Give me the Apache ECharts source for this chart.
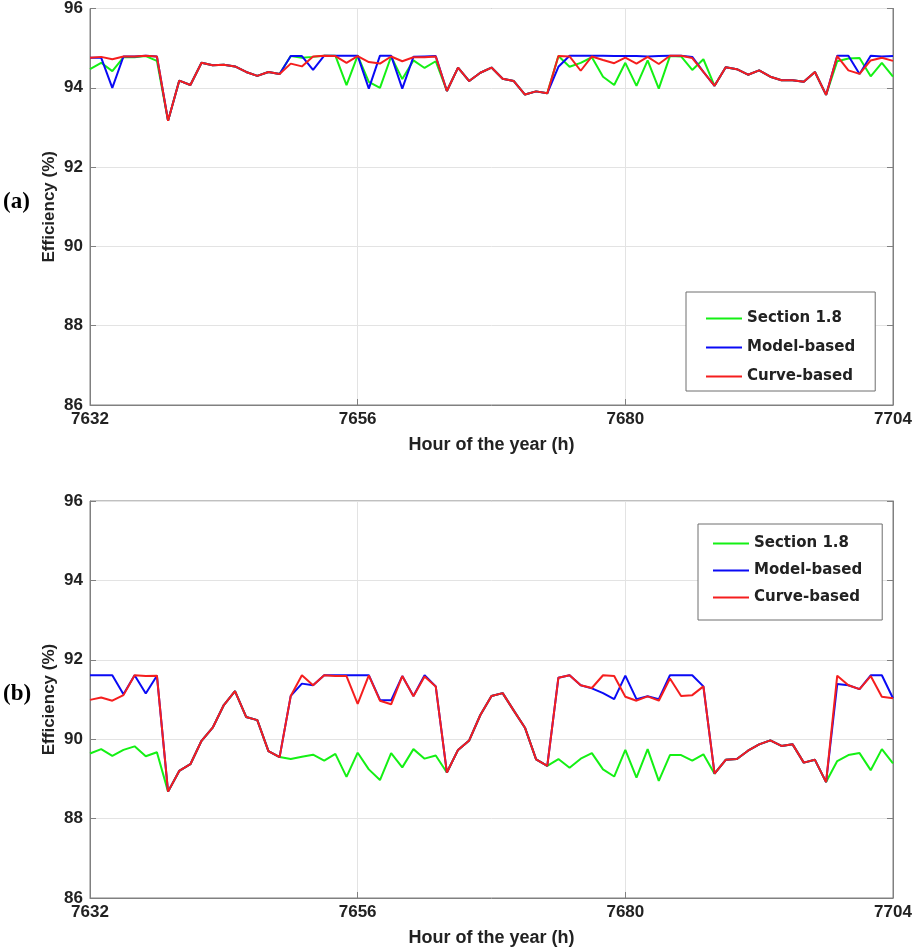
<!DOCTYPE html>
<html>
<head>
<meta charset="utf-8">
<title>Efficiency</title>
<script src="https://cdn.jsdelivr.net/npm/echarts@6/dist/echarts.min.js"></script>
<style>
  html, body { margin: 0; padding: 0; background: #fff; }
  #chart { width: 917px; height: 950px; }
</style>
</head>
<body>
<div id="chart"></div>
<script>
// hours 7632 .. 7704
const startHour = 7632;
const xTicks = [7632, 7656, 7680, 7704];
const seriesNames = ["Section 1.8", "Model-based", "Curve-based"];

// (a)
const sectionA = [94.47, 94.63, 94.42, 94.77, 94.77, 94.80, 94.68, 93.17, 94.18, 94.07,
  94.63, 94.57, 94.58, 94.54, 94.40, 94.30, 94.40, 94.35, 94.80, 94.76,
  94.78, 94.81, 94.81, 94.07, 94.81, 94.15, 94.00, 94.79, 94.22, 94.69,
  94.50, 94.67, 93.92, 94.51, 94.17, 94.38, 94.51, 94.23, 94.17, 93.83,
  93.91, 93.86, 94.80, 94.53, 94.63, 94.77, 94.28, 94.07, 94.63, 94.05,
  94.69, 93.98, 94.80, 94.79, 94.45, 94.72, 94.05, 94.52, 94.47, 94.33,
  94.44, 94.28, 94.19, 94.19, 94.15, 94.40, 93.82, 94.67, 94.74, 94.75,
  94.29, 94.63, 94.28];
const modelA = [94.76, 94.76, 94.00, 94.79, 94.79, 94.81, 94.79, 93.17, 94.18, 94.07,
  94.63, 94.57, 94.58, 94.54, 94.40, 94.30, 94.40, 94.35, 94.80, 94.80,
  94.45, 94.81, 94.81, 94.81, 94.81, 93.98, 94.81, 94.81, 93.98, 94.78,
  94.79, 94.80, 93.92, 94.51, 94.17, 94.38, 94.51, 94.23, 94.17, 93.83,
  93.91, 93.86, 94.53, 94.81, 94.81, 94.81, 94.81, 94.80, 94.80, 94.80,
  94.79, 94.80, 94.81, 94.81, 94.78, 94.40, 94.05, 94.52, 94.47, 94.33,
  94.44, 94.28, 94.19, 94.19, 94.15, 94.40, 93.82, 94.81, 94.81, 94.35,
  94.81, 94.79, 94.80];
const curveA = [94.76, 94.78, 94.72, 94.79, 94.79, 94.81, 94.79, 93.17, 94.18, 94.07,
  94.63, 94.57, 94.58, 94.54, 94.40, 94.30, 94.40, 94.35, 94.61, 94.54,
  94.79, 94.81, 94.80, 94.63, 94.80, 94.65, 94.61, 94.79, 94.67, 94.77,
  94.77, 94.79, 93.92, 94.51, 94.17, 94.38, 94.51, 94.23, 94.17, 93.83,
  93.91, 93.86, 94.80, 94.79, 94.43, 94.79, 94.70, 94.62, 94.76, 94.61,
  94.78, 94.60, 94.81, 94.81, 94.75, 94.40, 94.05, 94.52, 94.47, 94.33,
  94.44, 94.28, 94.19, 94.19, 94.15, 94.40, 93.82, 94.80, 94.44, 94.35,
  94.69, 94.76, 94.68];

// (b)
const sectionB = [89.64, 89.75, 89.58, 89.73, 89.82, 89.57, 89.67, 88.68, 89.20, 89.37,
  89.96, 90.29, 90.86, 91.21, 90.56, 90.48, 89.70, 89.55, 89.50, 89.56,
  89.61, 89.46, 89.63, 89.05, 89.66, 89.24, 88.97, 89.65, 89.29, 89.75,
  89.51, 89.59, 89.16, 89.73, 89.97, 90.61, 91.09, 91.16, 90.72, 90.29,
  89.49, 89.33, 89.50, 89.28, 89.51, 89.65, 89.24, 89.06, 89.73, 89.03,
  89.75, 88.95, 89.60, 89.60, 89.46, 89.62, 89.13, 89.48, 89.50, 89.71,
  89.87, 89.97, 89.83, 89.87, 89.41, 89.48, 88.92, 89.45, 89.60, 89.65,
  89.22, 89.75, 89.39];
const modelB = [91.61, 91.61, 91.61, 91.13, 91.61, 91.15, 91.60, 88.68, 89.20, 89.37,
  89.96, 90.29, 90.86, 91.21, 90.56, 90.48, 89.70, 89.55, 91.09, 91.40,
  91.36, 91.61, 91.61, 91.61, 91.61, 91.61, 90.99, 90.98, 91.59, 91.09,
  91.61, 91.33, 89.16, 89.73, 89.97, 90.61, 91.09, 91.16, 90.72, 90.29,
  89.49, 89.33, 91.55, 91.61, 91.36, 91.28, 91.16, 91.01, 91.60, 91.01,
  91.08, 91.01, 91.61, 91.61, 91.61, 91.33, 89.13, 89.48, 89.50, 89.71,
  89.87, 89.97, 89.83, 89.87, 89.41, 89.48, 88.92, 91.39, 91.36, 91.26,
  91.61, 91.61, 91.03];
const curveB = [90.99, 91.05, 90.97, 91.11, 91.61, 91.59, 91.60, 88.68, 89.20, 89.37,
  89.96, 90.29, 90.86, 91.21, 90.56, 90.48, 89.70, 89.55, 91.09, 91.61,
  91.36, 91.61, 91.59, 91.59, 90.89, 91.61, 90.97, 90.88, 91.59, 91.08,
  91.58, 91.33, 89.16, 89.73, 89.97, 90.61, 91.09, 91.16, 90.72, 90.29,
  89.49, 89.33, 91.55, 91.61, 91.36, 91.29, 91.61, 91.59, 91.07, 90.97,
  91.08, 90.97, 91.53, 91.09, 91.11, 91.33, 89.13, 89.48, 89.50, 89.71,
  89.87, 89.97, 89.83, 89.87, 89.41, 89.48, 88.92, 91.60, 91.36, 91.26,
  91.59, 91.07, 91.03];

const colors = ["#14f014", "#0a0af5", "#f51e1e"];

function pairs(values) {
  return values.map((v, i) => [startHour + i, v]);
}

const textColor = "#222";
const axisColor = "#808080";
const labelFont = "'Liberation Sans Narrow', 'Liberation Sans', Arial, sans-serif";

function xAxisFor(gridIndex) {
  return {
    type: "value",
    gridIndex: gridIndex,
    min: xTicks[0],
    max: xTicks[xTicks.length - 1],
    interval: 24,
    name: "Hour of the year (h)",
    nameLocation: "middle",
    nameGap: 31,
    nameTextStyle: { color: textColor, fontSize: 18, fontWeight: "bold", fontFamily: labelFont },
    axisLine: { show: true, lineStyle: { color: axisColor, width: 1 } },
    axisTick: { show: true, inside: true, length: 6, lineStyle: { color: axisColor } },
    axisLabel: {
      color: textColor, fontSize: 17, fontWeight: "bold", fontFamily: labelFont, margin: 6,
      formatter: (v) => String(v)
    },
    splitLine: { show: true, lineStyle: { color: "#e3e3e3", width: 1 } }
  };
}

function yAxisFor(gridIndex, right) {
  return {
    type: "value",
    gridIndex: gridIndex,
    position: right ? "right" : "left",
    min: 86,
    max: 96,
    interval: 2,
    name: right ? "" : "Efficiency (%)",
    nameLocation: "middle",
    nameGap: 32,
    nameMoveOverlap: false,
    nameTextStyle: { color: textColor, fontSize: 17, fontWeight: "bold", fontFamily: labelFont },
    axisLine: { show: true, lineStyle: { color: axisColor, width: 1 } },
    axisTick: { show: true, inside: true, length: 6, lineStyle: { color: axisColor } },
    axisLabel: { show: !right, color: textColor, fontSize: 17, fontWeight: "bold", fontFamily: labelFont, margin: 7 },
    splitLine: { show: !right, lineStyle: { color: "#e3e3e3", width: 1 } }
  };
}

function lineSeries(name, values, idx, xi, yi) {
  return {
    name: name,
    type: "line",
    xAxisIndex: xi,
    yAxisIndex: yi,
    data: pairs(values),
    symbol: "none",
    lineStyle: { color: colors[idx], width: 2 },
    itemStyle: { color: colors[idx] },
    animation: false
  };
}

// legend rows: a thin rect stands in for the line sample
function legendFor(left, top, padding, gap) {
  return {
    orient: "vertical",
    left: left,
    top: top,
    padding: padding,
    itemGap: gap,
    icon: "rect",
    itemWidth: 36,
    itemHeight: 2,
    backgroundColor: "#fff",
    borderColor: "#6e6e6e",
    borderWidth: 1,
    borderRadius: 0,
    textStyle: {
      color: textColor, fontSize: 15, fontWeight: "bold", lineHeight: 14,
      fontFamily: "'DejaVu Sans', Verdana, sans-serif"
    },
    data: seriesNames
  };
}

const chart = echarts.init(document.getElementById("chart"), null, { renderer: "canvas" });

const option = {
  backgroundColor: "#fff",
  animation: false,
  grid: [
    { left: 90, top: 8, width: 803, height: 397, show: true, borderColor: axisColor, borderWidth: 1 },
    { left: 90, top: 501, width: 803, height: 397, show: true, borderColor: axisColor, borderWidth: 1 }
  ],
  xAxis: [xAxisFor(0), xAxisFor(1)],
  yAxis: [yAxisFor(0, false), yAxisFor(0, true), yAxisFor(1, false), yAxisFor(1, true)],
  legend: [
    legendFor(686, 292, [19, 20, 7, 20], 14),
    legendFor(698, 524, [12, 20, 15, 15], 12)
  ],
  graphic: [
    { type: "text", left: 3, top: 191, style: { text: "(a)", font: "bold 23px 'Liberation Serif', 'Times New Roman', serif", fill: "#000" } },
    { type: "text", left: 3, top: 683, style: { text: "(b)", font: "bold 23px 'Liberation Serif', 'Times New Roman', serif", fill: "#000" } }
  ],
  series: [
    lineSeries(seriesNames[0], sectionA, 0, 0, 0),
    lineSeries(seriesNames[1], modelA, 1, 0, 0),
    lineSeries(seriesNames[2], curveA, 2, 0, 0),
    lineSeries(seriesNames[0], sectionB, 0, 1, 2),
    lineSeries(seriesNames[1], modelB, 1, 1, 2),
    lineSeries(seriesNames[2], curveB, 2, 1, 2)
  ]
};

chart.setOption(option);
</script>
</body>
</html>
